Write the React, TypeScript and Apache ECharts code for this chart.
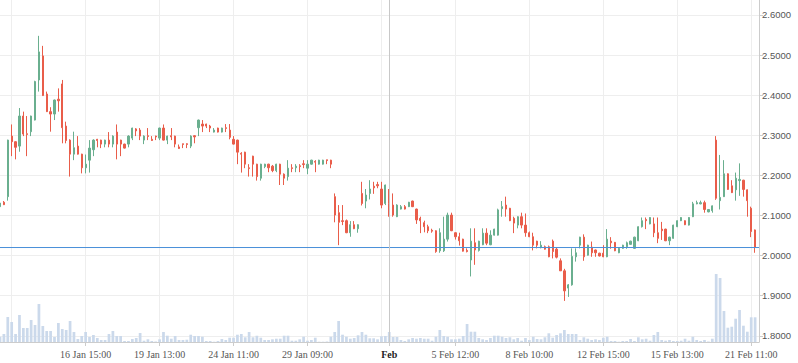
import React, { useEffect, useRef } from 'react';
import * as echarts from 'echarts';

const opens = [
  2.122, 2.133, 2.147, 2.298, 2.284, 2.273, 2.348, 2.304, 2.309, 2.338,
  2.438, 2.498, 2.403, 2.359, 2.353, 2.390, 2.428, 2.323, 2.288, 2.253,
  2.273, 2.253, 2.219, 2.238, 2.264, 2.290, 2.288, 2.278, 2.288, 2.278,
  2.308, 2.288, 2.278, 2.278, 2.293, 2.316, 2.313, 2.288, 2.299, 2.290,
  2.298, 2.293, 2.318, 2.288, 2.299, 2.298, 2.271, 2.279, 2.279, 2.273,
  2.299, 2.319, 2.328, 2.328, 2.323, 2.308, 2.318, 2.308, 2.319, 2.313,
  2.290, 2.288, 2.255, 2.258, 2.219, 2.248, 2.228, 2.193, 2.222, 2.228,
  2.223, 2.212, 2.228, 2.203, 2.197, 2.219, 2.219, 2.224, 2.229, 2.218,
  2.228, 2.235, 2.228, 2.228, 2.239, 2.238, 2.147, 2.107, 2.087, 2.087,
  2.057, 2.077, 2.067, 2.155, 2.136, 2.155, 2.173, 2.177, 2.166, 2.130,
  2.156, 2.126, 2.097, 2.116, 2.122, 2.122, 2.136, 2.116, 2.093, 2.082,
  2.072, 2.063, 2.062, 2.012, 2.012, 2.041, 2.101, 2.057, 2.047, 2.041,
  2.013, 1.989, 2.032, 2.013, 2.027, 2.056, 2.027, 2.051, 2.051, 2.117,
  2.126, 2.118, 2.093, 2.076, 2.097, 2.076, 2.057, 2.047, 2.036, 2.020,
  2.022, 2.022, 2.036, 2.016, 1.987, 1.962, 1.919, 1.927, 1.997, 2.026,
  2.046, 2.001, 2.021, 2.014, 2.006, 2.006, 1.997, 2.036, 2.033, 2.007,
  2.018, 2.022, 2.028, 2.018, 2.037, 2.072, 2.090, 2.079, 2.079, 2.057,
  2.066, 2.066, 2.037, 2.043, 2.072, 2.087, 2.087, 2.076, 2.097, 2.129,
  2.129, 2.132, 2.109, 2.112, 2.288, 2.137, 2.147, 2.204, 2.174, 2.164,
  2.187, 2.188, 2.164, 2.118, 2.064,
];

const closes = [
  2.131, 2.127, 2.288, 2.284, 2.270, 2.348, 2.303, 2.302, 2.348, 2.434,
  2.508, 2.399, 2.359, 2.353, 2.388, 2.386, 2.319, 2.287, 2.253, 2.269,
  2.253, 2.219, 2.228, 2.268, 2.288, 2.287, 2.278, 2.288, 2.278, 2.298,
  2.278, 2.278, 2.268, 2.298, 2.318, 2.311, 2.298, 2.298, 2.297, 2.287,
  2.296, 2.318, 2.288, 2.298, 2.296, 2.278, 2.267, 2.277, 2.277, 2.298,
  2.296, 2.338, 2.323, 2.323, 2.318, 2.313, 2.308, 2.318, 2.317, 2.295,
  2.278, 2.258, 2.253, 2.228, 2.217, 2.228, 2.197, 2.228, 2.228, 2.219,
  2.212, 2.228, 2.203, 2.193, 2.218, 2.217, 2.223, 2.222, 2.227, 2.228,
  2.238, 2.233, 2.238, 2.238, 2.237, 2.228, 2.101, 2.083, 2.085, 2.057,
  2.077, 2.067, 2.077, 2.130, 2.151, 2.166, 2.169, 2.174, 2.126, 2.176,
  2.130, 2.101, 2.126, 2.122, 2.116, 2.133, 2.122, 2.089, 2.087, 2.072,
  2.062, 2.061, 2.010, 2.057, 2.041, 2.101, 2.062, 2.047, 2.037, 2.011,
  2.010, 2.036, 2.014, 2.036, 2.056, 2.031, 2.051, 2.066, 2.114, 2.122,
  2.116, 2.087, 2.081, 2.097, 2.076, 2.057, 2.047, 2.026, 2.026, 2.026,
  2.016, 1.997, 2.010, 1.996, 1.962, 1.912, 1.927, 1.998, 2.007, 2.046,
  1.997, 2.026, 2.007, 2.007, 1.999, 1.997, 2.041, 2.032, 2.012, 2.018,
  2.026, 2.032, 2.036, 2.046, 2.072, 2.087, 2.087, 2.095, 2.057, 2.043,
  2.062, 2.037, 2.046, 2.076, 2.087, 2.095, 2.077, 2.095, 2.129, 2.132,
  2.132, 2.115, 2.115, 2.124, 2.143, 2.145, 2.204, 2.165, 2.157, 2.193,
  2.190, 2.165, 2.137, 2.060, 2.0201,
];

const highs = [
  2.139, 2.136, 2.289, 2.327, 2.285, 2.368, 2.359, 2.348, 2.349, 2.436,
  2.548, 2.523, 2.409, 2.370, 2.389, 2.417, 2.438, 2.334, 2.290, 2.309,
  2.298, 2.254, 2.252, 2.288, 2.290, 2.291, 2.289, 2.289, 2.308, 2.300,
  2.327, 2.289, 2.279, 2.300, 2.319, 2.318, 2.318, 2.300, 2.318, 2.298,
  2.299, 2.319, 2.327, 2.299, 2.318, 2.299, 2.277, 2.279, 2.280, 2.300,
  2.300, 2.339, 2.338, 2.329, 2.326, 2.318, 2.319, 2.319, 2.328, 2.328,
  2.298, 2.289, 2.258, 2.259, 2.228, 2.249, 2.229, 2.229, 2.229, 2.229,
  2.226, 2.229, 2.229, 2.205, 2.238, 2.228, 2.228, 2.228, 2.238, 2.238,
  2.239, 2.238, 2.239, 2.239, 2.239, 2.239, 2.155, 2.126, 2.126, 2.090,
  2.086, 2.086, 2.078, 2.184, 2.166, 2.188, 2.184, 2.184, 2.184, 2.177,
  2.166, 2.155, 2.128, 2.126, 2.126, 2.134, 2.137, 2.117, 2.097, 2.087,
  2.077, 2.067, 2.063, 2.068, 2.097, 2.107, 2.107, 2.058, 2.057, 2.042,
  2.018, 2.068, 2.068, 2.037, 2.068, 2.068, 2.063, 2.067, 2.117, 2.136,
  2.147, 2.119, 2.097, 2.098, 2.107, 2.105, 2.060, 2.057, 2.037, 2.036,
  2.025, 2.025, 2.040, 2.020, 1.993, 1.967, 1.929, 2.018, 2.018, 2.047,
  2.053, 2.027, 2.035, 2.015, 2.007, 2.026, 2.066, 2.046, 2.034, 2.019,
  2.027, 2.035, 2.037, 2.047, 2.073, 2.095, 2.095, 2.096, 2.095, 2.095,
  2.084, 2.067, 2.047, 2.077, 2.088, 2.096, 2.088, 2.096, 2.134, 2.137,
  2.137, 2.137, 2.116, 2.125, 2.298, 2.251, 2.238, 2.205, 2.188, 2.207,
  2.230, 2.189, 2.165, 2.122, 2.065,
];

const lows = [
  2.112, 2.126, 2.137, 2.248, 2.240, 2.259, 2.298, 2.248, 2.298, 2.337,
  2.409, 2.398, 2.358, 2.309, 2.338, 2.359, 2.280, 2.280, 2.197, 2.238,
  2.252, 2.205, 2.205, 2.207, 2.248, 2.270, 2.268, 2.270, 2.270, 2.270,
  2.240, 2.248, 2.267, 2.270, 2.288, 2.298, 2.288, 2.278, 2.288, 2.286,
  2.288, 2.288, 2.287, 2.278, 2.288, 2.270, 2.266, 2.268, 2.268, 2.268,
  2.280, 2.298, 2.308, 2.318, 2.308, 2.307, 2.307, 2.307, 2.308, 2.290,
  2.277, 2.228, 2.207, 2.218, 2.197, 2.197, 2.187, 2.187, 2.218, 2.208,
  2.208, 2.208, 2.176, 2.176, 2.187, 2.208, 2.208, 2.208, 2.218, 2.203,
  2.227, 2.208, 2.227, 2.227, 2.228, 2.218, 2.083, 2.026, 2.076, 2.056,
  2.047, 2.066, 2.057, 2.125, 2.118, 2.140, 2.154, 2.168, 2.118, 2.126,
  2.097, 2.097, 2.096, 2.115, 2.115, 2.121, 2.121, 2.079, 2.056, 2.058,
  2.056, 2.057, 2.007, 2.007, 2.009, 2.035, 2.061, 2.040, 2.025, 2.010,
  2.008, 1.948, 1.977, 2.010, 2.026, 2.026, 2.026, 2.050, 2.050, 2.097,
  2.097, 2.086, 2.056, 2.068, 2.068, 2.047, 2.046, 2.013, 2.018, 2.018,
  2.015, 1.996, 1.993, 1.993, 1.962, 1.887, 1.897, 1.925, 1.985, 2.018,
  1.987, 2.000, 1.997, 1.997, 1.998, 1.996, 1.996, 2.017, 2.011, 2.006,
  2.017, 2.017, 2.027, 2.017, 2.036, 2.070, 2.066, 2.078, 2.046, 2.031,
  2.039, 2.036, 2.026, 2.042, 2.071, 2.086, 2.076, 2.075, 2.096, 2.128,
  2.128, 2.107, 2.108, 2.107, 2.139, 2.115, 2.146, 2.164, 2.156, 2.137,
  2.149, 2.147, 2.097, 2.046, 2.007,
];

const volumes = [
  530, 800, 2500, 2000, 800, 2700, 1400, 1400, 2200, 1700,
  3800, 1600, 1100, 1100, 500, 1900, 1300, 1200, 2100, 1000,
  300, 600, 1000, 500, 700, 400, 200, 200, 800, 1100,
  600, 600, 100, 100, 300, 400, 900, 130, 270, 100,
  50, 270, 1000, 630, 330, 600, 200, 200, 230, 730,
  600, 600, 530, 100, 100, 30, 100, 300, 200, 430,
  430, 730, 800, 470, 1000, 470, 630, 430, 200, 200,
  270, 330, 330, 630, 630, 130, 130, 270, 530, 130,
  200, 430, 30, 30, 50, 530, 1000, 2100, 730, 530,
  330, 400, 670, 1000, 730, 370, 370, 270, 570, 600,
  1000, 500, 500, 200, 100, 270, 400, 330, 400, 330,
  330, 130, 530, 1200, 600, 530, 270, 270, 330, 600,
  1800, 1030, 1030, 400, 270, 200, 400, 630, 630, 530,
  400, 470, 270, 400, 130, 400, 200, 530, 300, 270,
  470, 870, 430, 700, 870, 1200, 800, 800, 800, 200,
  470, 330, 200, 270, 200, 430, 530, 100, 100, 30,
  100, 100, 300, 100, 470, 270, 330, 130, 700, 1000,
  200, 130, 200, 100, 100, 130, 330, 130, 530, 200,
  100, 200, 50, 330, 6800, 6400, 3100, 1430, 1530, 2330,
  3200, 1630, 1030, 2470, 2470,
];

const tickLabels: [number, string][] = [
  [22, '16 Jan 15:00'],
  [41, '19 Jan 13:00'],
  [60, '24 Jan 11:00'],
  [79, '29 Jan 09:00'],
  [100, 'Feb'],
  [117, '5 Feb 12:00'],
  [136, '8 Feb 10:00'],
  [155, '12 Feb 15:00'],
  [174, '15 Feb 13:00'],
  [193, '21 Feb 11:00'],
];
const gridIndices = [3, 22, 41, 60, 79, 98, 117, 136, 155, 174, 193];
const monthLabel = 'Feb';
const lastPrice = 2.0201;

const UP = '#6aaf8f';
const DOWN = '#e95d4a';
const PRICE_BLUE = '#4a90d9';

export default function App() {
  const ref = useRef<HTMLDivElement>(null);

  useEffect(() => {
    if (!ref.current) return;
    const chart = echarts.init(ref.current, undefined, { renderer: 'svg' });
    const labelMap = new Map<number, string>(tickLabels);
    const gridSet = new Set<number>(gridIndices);
    const categories = opens.map((_, i) => labelMap.get(i) ?? String(i));
    const candleData = opens.map((o, i) => [o, closes[i], lows[i], highs[i]]);

    const option: any = {
      animation: false,
      textStyle: { fontFamily: 'Liberation Sans' },
      grid: [
        { left: 0, right: 39, top: 0, bottom: 21 },
        { left: 0, right: 39, top: 262, bottom: 21 },
      ],
      xAxis: [
        {
          type: 'category',
          gridIndex: 0,
          data: categories,
          boundaryGap: false,
          max: categories.length,
          axisLine: { show: true, onZero: false, lineStyle: { color: '#ccc' } },
          axisTick: {
            show: true,
            length: 4,
            interval: (i: number) => labelMap.has(i),
            lineStyle: { color: '#ccc' },
          },
          axisLabel: {
            interval: (i: number) => labelMap.has(i),
            formatter: (v: string) => (v === monthLabel ? '{b|' + v + '}' : v),
            color: '#555',
            fontFamily: 'Liberation Serif',
            fontSize: 10,
            margin: 7,
            rich: {
              b: {
                fontWeight: 'bold',
                color: '#222',
                fontFamily: 'Liberation Serif',
                fontSize: 10,
              },
            },
          },
          splitLine: {
            show: true,
            interval: (i: number) => gridSet.has(i),
            lineStyle: { color: '#eeeeee', width: 1 },
          },
        },
        {
          type: 'category',
          gridIndex: 1,
          data: categories,
          boundaryGap: false,
          max: categories.length,
          show: false,
          axisLine: { show: false, onZero: false },
          axisTick: { show: false },
          axisLabel: { show: false },
          splitLine: { show: false },
        },
      ],
      yAxis: [
        {
          type: 'value',
          gridIndex: 0,
          position: 'right',
          min: 1.7845,
          max: 2.6374,
          splitNumber: 8,
          axisLine: { show: true, lineStyle: { color: '#ccc' } },
          axisTick: { show: true, length: 4, lineStyle: { color: '#ccc' } },
          axisLabel: {
            color: '#555',
            fontSize: 9.5,
            margin: 3,
            showMinLabel: false,
            showMaxLabel: false,
            formatter: (v: number) => v.toFixed(4),
          },
          splitLine: {
            show: true,
            showMinLine: false,
            showMaxLine: false,
            lineStyle: { color: '#eeeeee', width: 1 },
          },
        },
        {
          type: 'value',
          gridIndex: 1,
          min: 0,
          max: 8000,
          show: false,
          axisLine: { show: false },
          axisTick: { show: false },
          axisLabel: { show: false },
          splitLine: { show: false },
        },
      ],
      series: [
        {
          type: 'candlestick',
          xAxisIndex: 0,
          yAxisIndex: 0,
          data: candleData,
          barWidth: '45%',
          z: 3,
          itemStyle: {
            color: UP,
            color0: DOWN,
            borderColor: UP,
            borderColor0: DOWN,
            borderWidth: 1,
          },
          markLine: {
            silent: true,
            animation: false,
            symbol: ['none', 'none'],
            data: [
              {
                xAxis: monthLabel,
                lineStyle: { color: '#c8c8c8', width: 1, type: 'solid' },
                label: { show: false },
              },
              {
                yAxis: lastPrice,
                lineStyle: { color: PRICE_BLUE, width: 1, type: 'solid', opacity: 0 },
                label: {
                  show: true,
                  position: 'end',
                  distance: 1,
                  formatter: () => lastPrice.toFixed(4),
                  backgroundColor: PRICE_BLUE,
                  color: '#fff',
                  fontWeight: 'bold',
                  fontSize: 10,
                  fontFamily: 'Liberation Sans',
                  padding: [5, 2, 4, 2],
                  borderRadius: 2,
                },
              },
            ],
          },
        },
        {
          type: 'line',
          xAxisIndex: 0,
          yAxisIndex: 0,
          data: [
            [0, lastPrice],
            [categories.length, lastPrice],
          ],
          symbol: 'none',
          showSymbol: false,
          silent: true,
          z: 4,
          color: PRICE_BLUE,
          lineStyle: { color: PRICE_BLUE, width: 1, type: 'solid', opacity: 1 },
          emphasis: { disabled: true },
        },
        {
          type: 'bar',
          xAxisIndex: 1,
          yAxisIndex: 1,
          data: volumes,
          barWidth: '70%',
          silent: true,
          z: 1,
          itemStyle: { color: '#cbd9eb' },
        },
      ],
    };

    chart.setOption(option);
    return () => chart.dispose();
  }, []);

  return (
    <div
      ref={ref}
      style={{ position: 'absolute', left: 0, top: 0, width: 798, height: 363 }}
    />
  );
}
